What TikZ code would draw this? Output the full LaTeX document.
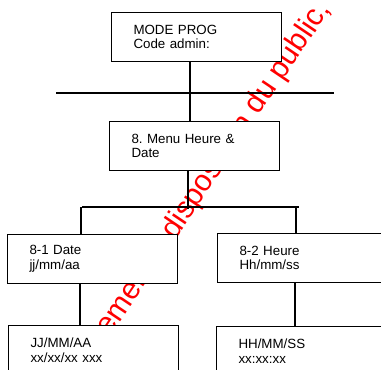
\documentclass[tikz,border=0pt]{standalone}
\usepackage{fontspec}
\setmainfont{Liberation Sans}
\frenchspacing
\tikzset{
  menubox/.style={draw, fill=white, line width=0.75pt, anchor=north west,
    minimum width=127.5pt, minimum height=36.75pt, text width=94.5pt,
    inner xsep=16.5pt, align=left, font=\fontsize{10pt}{11pt}\selectfont},
  link/.style={line width=1.2pt},
  stamp/.style={red, rotate=56, inner sep=0pt, font=\fontsize{22.5pt}{22.5pt}\selectfont}
}
\begin{document}
\begin{tikzpicture}[x=0.75pt, y=-0.75pt]
    \useasboundingbox (0,0) rectangle (381,369);
    \clip (0,0) rectangle (381,369);

    % filigrane
    \node[stamp, anchor=base east] (filigrane) at (331,9) {Document mis gratuitement à disposition du public,};

    \coordinate (bar1w) at (56,93);
    \coordinate (bar1e) at (334,93);
    \coordinate (hub1) at (190,93);
    \coordinate (bar2w) at (82,207);
    \coordinate (bar2e) at (299,207);
    \coordinate (hub2) at (188,209);
    \coordinate (dropL) at (81,207);
    \coordinate (dropR) at (296,207);

    \node[menubox] (mode) at (111,12) {MODE PROG\\Code admin:};
    \node[menubox] (menu) at (109,121) {8. Menu Heure \&\\Date};
    \node[menubox] (date) at (7,234) {8-1 Date\\jj/mm/aa};
    \node[menubox] (heure) at (217,233) {8-2 Heure\\Hh/mm/ss};
    \node[menubox] (datefmt) at (8,325) {JJ/MM/AA\\xx/xx/xx xxx};
    \node[menubox] (heurefmt) at (216,326) {HH/MM/SS\\xx:xx:xx};

    \draw[link] (hub1 |- mode.south) -- (hub1 |- menu.north);
    \draw[link] (bar1w) -- (bar1e);
    \draw[link] (hub2 |- menu.south) -- (hub2);
    \draw[link] (bar2w) -- (bar2e);
    \draw[link] (dropL) -- (dropL |- date.north);
    \draw[link] (dropR) -- (dropR |- heure.north);
    \draw[link] ([xshift=-0.75pt]dropL |- date.south) -- ([xshift=-0.75pt]dropL |- datefmt.north);
    \draw[link] ([xshift=-0.75pt]dropR |- heure.south) -- ([xshift=-0.75pt]dropR |- heurefmt.north);
\end{tikzpicture}
\end{document}
